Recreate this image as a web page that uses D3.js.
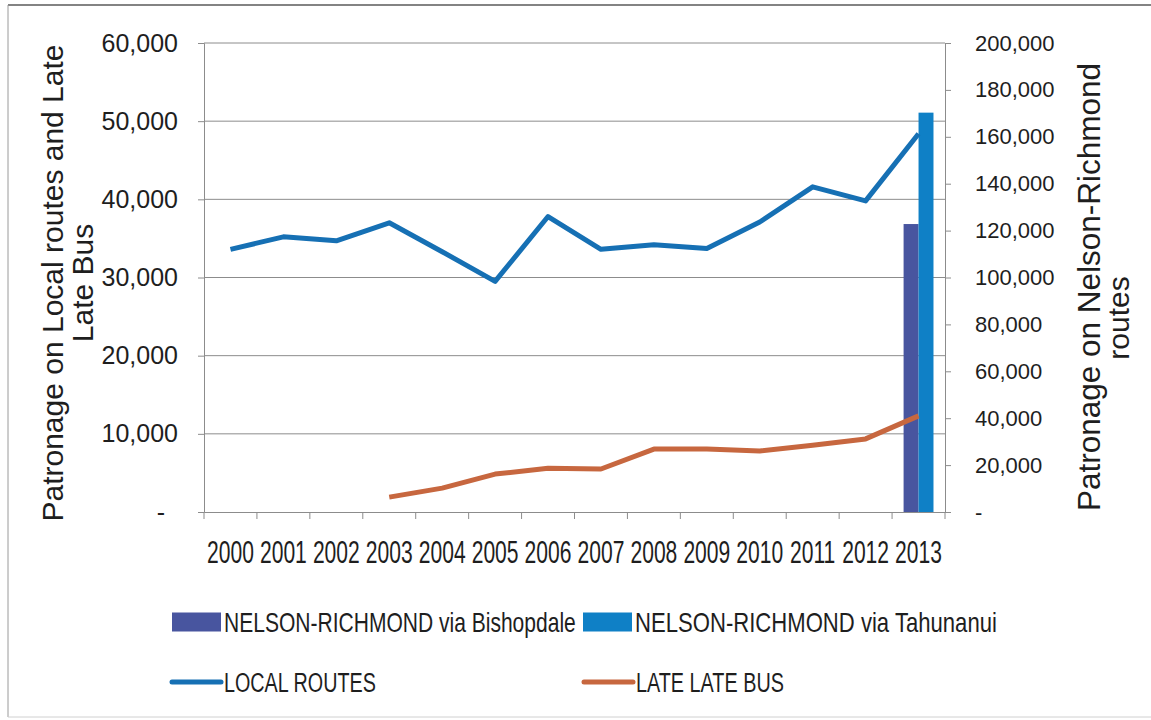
<!DOCTYPE html>
<html>
<head>
<meta charset="utf-8">
<script src="https://cdn.jsdelivr.net/npm/d3@7/dist/d3.min.js"></script>
<style>
  html, body { margin: 0; padding: 0; background: #ffffff; }
  svg { display: block; }
  text { font-family: "Liberation Sans", Arial, sans-serif; fill: #1e1e1e; }
</style>
</head>
<body>
<svg id="chart" width="1151" height="720"></svg>
<script>
// Years on the category axis
const years = ["2000","2001","2002","2003","2004","2005","2006","2007","2008","2009","2010","2011","2012","2013"];

// Nelson-Richmond routes (right axis) – only 2013 recorded
const bishopdale = [null,null,null,null,null,null,null,null,null,null,null,null,null,122800];
const tahunanui  = [null,null,null,null,null,null,null,null,null,null,null,null,null,170300];

// Local routes and Late Late Bus (left axis)
const localRoutes = [33600,35200,34700,37000,33300,29500,37800,33600,34200,33700,37100,41600,39800,48400];
const lateLateBus = [null,null,null,1900,3050,4850,5600,5500,8050,8050,7800,8550,9350,12300];

// Axis ticks
const leftTicks  = [0,10000,20000,30000,40000,50000,60000];
const rightTicks = [0,20000,40000,60000,80000,100000,120000,140000,160000,180000,200000];

// Series names and colours
const barNames   = ["NELSON-RICHMOND via Bishopdale","NELSON-RICHMOND via Tahunanui"];
const barColors  = ["#48559f","#0f80c6"];
const lineNames  = ["LOCAL ROUTES","LATE LATE BUS"];
const lineColors = ["#1670b4","#c7673f"];

const svg = d3.select("#chart");

// Frame around the chart
svg.append("line").attr("x1",8).attr("x2",1151).attr("y1",5).attr("y2",5)
  .attr("stroke","#5a5a5a").attr("stroke-width",1.5);
svg.append("line").attr("x1",8).attr("x2",8).attr("y1",5).attr("y2",717)
  .attr("stroke","#9a9a9a").attr("stroke-width",1);
svg.append("line").attr("x1",8).attr("x2",1151).attr("y1",717).attr("y2",717)
  .attr("stroke","#d0d0d0").attr("stroke-width",1);

const plot = { left: 204, right: 945, top: 43, bottom: 512 };

const x  = d3.scaleBand().domain(years).range([plot.left, plot.right]).padding(0);
const yL = d3.scaleLinear().domain([0, 60000]).range([plot.bottom, plot.top]);
const yR = d3.scaleLinear().domain([0, 200000]).range([plot.bottom, plot.top]);
const xSub = d3.scaleBand().domain(barNames).range([0, x.bandwidth()]).paddingInner(0).paddingOuter(0.77);

const fmt = d => d === 0 ? "-" : d3.format(",")(d);

// Horizontal gridlines
svg.append("g").selectAll("line")
  .data(leftTicks.filter(d => d > 0))
  .join("line")
  .attr("x1", plot.left).attr("x2", plot.right)
  .attr("y1", d => yL(d)).attr("y2", d => yL(d))
  .attr("stroke", "#8c8c8c").attr("stroke-width", 1);

// Left axis
const gL = svg.append("g").attr("transform", `translate(${plot.left},0)`)
  .call(d3.axisLeft(yL).tickValues(leftTicks).tickSize(6).tickPadding(20).tickFormat(fmt));
gL.select(".domain").attr("stroke", "#8c8c8c");
gL.selectAll(".tick line").attr("stroke", "#8c8c8c");
gL.selectAll(".tick text").attr("font-size", 25).attr("font-family", null).attr("fill", "#1e1e1e")
  .attr("dx", d => d === 0 ? -13 : 0);

// Right axis
const gR = svg.append("g").attr("transform", `translate(${plot.right},0)`)
  .call(d3.axisRight(yR).tickValues(rightTicks).tickSize(6).tickPadding(24).tickFormat(fmt));
gR.select(".domain").attr("stroke", "#8c8c8c");
gR.selectAll(".tick line").attr("stroke", "#8c8c8c");
gR.selectAll(".tick text").attr("font-size", 22).attr("font-family", null).attr("fill", "#1e1e1e");

// Bottom axis: line with ticks on category boundaries, labels centred in each band
const gB = svg.append("g").attr("transform", `translate(0,${plot.bottom})`)
  .call(d3.axisBottom(x).tickSize(0).tickPadding(29));
gB.select(".domain").attr("stroke", "#8c8c8c");
// condensed year labels: narrow each one horizontally around its centre
gB.selectAll(".tick text").attr("font-size", 31).attr("font-family", null).attr("fill", "#1e1e1e")
  .attr("transform", "scale(0.68,1)");
gB.append("g").selectAll("line")
  .data(years.concat(["end"]))
  .join("line")
  .attr("x1", d => d === "end" ? plot.right : x(d))
  .attr("x2", d => d === "end" ? plot.right : x(d))
  .attr("y1", 0).attr("y2", 7)
  .attr("stroke", "#8c8c8c");

// Bars for the Nelson-Richmond routes
const barSeries = [bishopdale, tahunanui];
barSeries.forEach((vals, si) => {
  svg.append("g").selectAll("rect")
    .data(years.map((yr, i) => ({ yr, v: vals[i] })).filter(d => d.v != null))
    .join("rect")
    .attr("x", d => x(d.yr) + xSub(barNames[si]))
    .attr("width", xSub.bandwidth())
    .attr("y", d => yR(d.v))
    .attr("height", d => yR(0) - yR(d.v))
    .attr("fill", barColors[si]);
});

// Lines for Local routes and Late Late Bus
const line = d3.line()
  .defined(d => d.v != null)
  .x(d => x(d.yr) + x.bandwidth() / 2)
  .y(d => yL(d.v));

[localRoutes, lateLateBus].forEach((vals, si) => {
  svg.append("path")
    .datum(years.map((yr, i) => ({ yr, v: vals[i] })))
    .attr("d", line)
    .attr("fill", "none")
    .attr("stroke", lineColors[si])
    .attr("stroke-width", 5)
    .attr("stroke-linejoin", "round");
});

// Axis titles
const leftTitle = svg.append("text")
  .attr("transform", "translate(63,283) rotate(-90)")
  .attr("text-anchor", "middle").attr("font-size", 30).attr("fill", "#2a2a2a");
leftTitle.append("tspan").attr("x", 0).attr("y", 0).text("Patronage on Local routes and Late");
leftTitle.append("tspan").attr("x", 0).attr("y", 30).text("Late Bus");

const rightTitle = svg.append("g").attr("transform", "translate(1100,0) rotate(-90)");
rightTitle.append("text").attr("x", -287).attr("y", 0)
  .attr("text-anchor", "middle").attr("font-size", 31).attr("fill", "#2a2a2a")
  .attr("textLength", 448).attr("lengthAdjust", "spacingAndGlyphs")
  .text("Patronage on Nelson-Richmond");
rightTitle.append("text").attr("x", -318).attr("y", 29)
  .attr("text-anchor", "middle").attr("font-size", 30).attr("fill", "#2a2a2a")
  .text("routes");

// Legend (condensed labels, each narrowed to its target width)
const legend = svg.append("g");
const legendRows = [
  { type: "bar",  name: barNames[0],  color: barColors[0],  x: 172, y: 622, w: 352 },
  { type: "bar",  name: barNames[1],  color: barColors[1],  x: 583, y: 622, w: 362 },
  { type: "line", name: lineNames[0], color: lineColors[0], x: 172, y: 682, w: 152 },
  { type: "line", name: lineNames[1], color: lineColors[1], x: 584, y: 682, w: 148 }
];
legendRows.forEach(r => {
  if (r.type === "bar") {
    legend.append("rect").attr("x", r.x).attr("y", r.y - 9.5).attr("width", 49).attr("height", 19).attr("fill", r.color);
  } else {
    legend.append("line").attr("x1", r.x).attr("x2", r.x + 49).attr("y1", r.y).attr("y2", r.y)
      .attr("stroke", r.color).attr("stroke-width", 5).attr("stroke-linecap", "round");
  }
  const t = legend.append("text").attr("x", 0).attr("y", 0).attr("font-size", 28).text(r.name);
  const natural = t.node().getComputedTextLength();
  t.attr("transform", `translate(${r.x + 52},${r.y + 10}) scale(${r.w / natural},1)`);
});
</script>
</body>
</html>
